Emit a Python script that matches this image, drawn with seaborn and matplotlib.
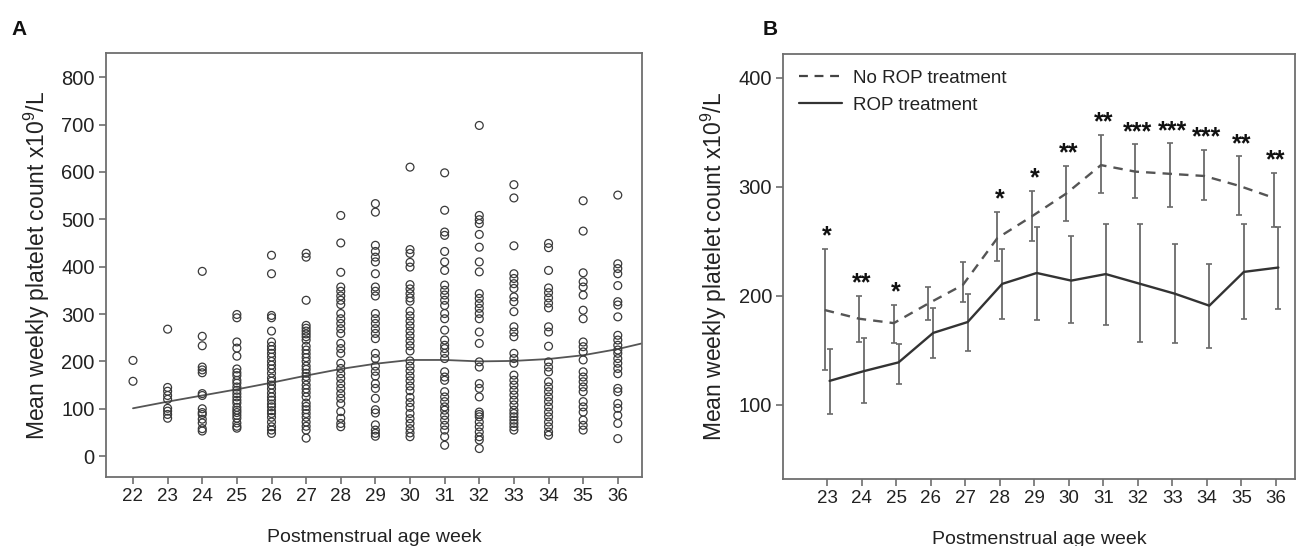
import numpy as np
import pandas as pd
import matplotlib
matplotlib.use('Agg')
import matplotlib.pyplot as plt
import seaborn as sns
from matplotlib.lines import Line2D

# Panel A: weekly platelet counts (x10^9/L) per postmenstrual age week
pc_w22 = [202, 158]
pc_w23 = [268, 145, 137, 128, 120, 101, 95, 88, 80]
pc_w24 = [390, 253, 233, 188, 182, 176, 132, 128, 100, 92, 88, 78, 70, 58, 53]
pc_w25 = [299, 292, 241, 228, 211, 184, 176, 170, 160, 154, 146, 139, 132, 125,
          118, 112, 103, 97, 92, 86, 80, 70, 63, 59]
pc_w26 = [424, 385, 297, 292, 264, 241, 232, 225, 217, 209, 200, 192, 184, 175,
          165, 158, 150, 142, 133, 125, 118, 110, 104, 96, 90, 82, 72, 62, 55, 48]
pc_w27 = [428, 420, 329, 276, 270, 264, 258, 252, 245, 232, 224, 216, 208, 200,
          190, 183, 175, 168, 160, 150, 142, 134, 125, 112, 105, 98, 90, 82, 72,
          63, 55, 38]
pc_w28 = [508, 450, 388, 357, 348, 338, 329, 320, 301, 290, 280, 269, 259, 238,
          227, 217, 196, 185, 174, 164, 153, 143, 132, 122, 111, 94, 80, 69, 62]
pc_w29 = [533, 515, 445, 432, 420, 410, 385, 357, 348, 338, 301, 290, 280, 269,
          259, 248, 217, 206, 190, 179, 169, 153, 143, 122, 98, 91, 66, 55, 48, 42]
pc_w30 = [610, 436, 428, 409, 399, 362, 353, 343, 334, 327, 306, 296, 285, 275,
          264, 254, 243, 233, 222, 201, 190, 180, 169, 159, 148, 138, 124, 113,
          103, 90, 79, 69, 58, 49, 41]
pc_w31 = [598, 519, 473, 466, 432, 410, 392, 361, 350, 340, 329, 318, 301, 290,
          266, 245, 234, 227, 217, 206, 178, 167, 160, 136, 125, 115, 104, 97, 86,
          76, 65, 55, 41, 23]
pc_w32 = [698, 508, 499, 491, 468, 441, 410, 389, 343, 333, 322, 312, 301, 290,
          262, 238, 199, 188, 153, 143, 125, 93, 88, 83, 72, 62, 51, 41, 34, 16]
pc_w33 = [573, 545, 444, 385, 375, 364, 354, 336, 326, 305, 273, 262, 252, 217,
          206, 196, 171, 160, 150, 139, 129, 118, 108, 97, 90, 83, 76, 69, 62, 55]
pc_w34 = [449, 440, 392, 355, 345, 334, 323, 313, 273, 262, 232, 199, 188, 178,
          157, 146, 136, 125, 115, 104, 93, 83, 72, 62, 51, 44]
pc_w35 = [539, 475, 387, 368, 357, 340, 308, 290, 241, 231, 220, 203, 178, 167,
          157, 146, 136, 115, 104, 93, 76, 65, 55]
pc_w36 = [551, 406, 396, 385, 360, 326, 319, 294, 255, 245, 234, 224, 217, 206,
          196, 185, 174, 143, 136, 111, 101, 86, 69, 37]

# smoothed trend in panel A
trend_weeks = [22, 23, 24, 25, 26, 27, 28, 29, 30, 31, 32, 33, 34, 35, 36, 36.7]
trend_values = [101, 115, 128, 141, 155, 170, 184, 195, 203, 203, 200, 201, 205,
                213, 226, 238]

# Panel B: mean weekly platelet count with CI
weeks_b = [23, 24, 25, 26, 27, 28, 29, 30, 31, 32, 33, 34, 35, 36]
no_rop_mean = [187, 179, 175, 193, 210, 253, 273, 294, 320, 314, 312, 310, 301, 290]
no_rop_low = [132, 158, 157, 178, 194, 232, 250, 269, 294, 290, 282, 288, 274, 263]
no_rop_high = [243, 200, 192, 208, 231, 277, 296, 319, 348, 339, 340, 334, 328, 313]
rop_mean = [122, 131, 139, 166, 176, 211, 221, 214, 220, 211, 202, 191, 222, 226]
rop_low = [92, 102, 119, 143, 149, 179, 178, 175, 173, 158, 157, 152, 179, 188]
rop_high = [151, 161, 156, 189, 202, 243, 263, 255, 266, 266, 248, 229, 266, 263]
signif = ['*', '**', '*', '', '', '*', '*', '**', '**', '***', '***', '***', '**', '**']

sns.set_theme(style='white')
plt.rcParams['font.family'] = ['Liberation Sans', 'DejaVu Sans']
plt.rcParams['mathtext.fontset'] = 'custom'
plt.rcParams['mathtext.rm'] = 'Liberation Sans'
plt.rcParams['mathtext.it'] = 'Liberation Sans'

TEXT = '#222222'
SPINE = '#6e6e6e'
YLABEL = 'Mean weekly platelet count x10$^9$/L'


def style_axes(ax):
    for s in ax.spines.values():
        s.set_color(SPINE)
        s.set_linewidth(1.3)
    ax.tick_params(axis='both', which='major', direction='out', length=5,
                   width=1.2, color=SPINE, labelcolor=TEXT,
                   bottom=True, left=True, pad=3)
    ax.tick_params(axis='y', labelsize=14.5)
    ax.tick_params(axis='x', labelsize=13.5)
    ax.set_xlabel('Postmenstrual age week', fontsize=14, color=TEXT, labelpad=17)
    ax.set_ylabel(YLABEL, fontsize=16.5, color=TEXT, labelpad=7)


fig = plt.figure(figsize=(13.1, 5.46), dpi=100)
ax_a = fig.add_axes([0.0809, 0.1264, 0.4092, 0.7766])
ax_b = fig.add_axes([0.5977, 0.1228, 0.3908, 0.7784])

# ---- Panel A
cols = [pc_w22, pc_w23, pc_w24, pc_w25, pc_w26, pc_w27, pc_w28, pc_w29, pc_w30,
        pc_w31, pc_w32, pc_w33, pc_w34, pc_w35, pc_w36]
rows = []
for wk, vals in zip(range(22, 37), cols):
    for v in vals:
        rows.append({'week': wk, 'count': v})
df_a = pd.DataFrame(rows)

sns.scatterplot(data=df_a, x='week', y='count', ax=ax_a, marker='o', s=32,
                facecolor='none', edgecolor='#3a3a3a', linewidth=0.9, zorder=3)
sns.lineplot(x=trend_weeks, y=trend_values, ax=ax_a, color='#555555', lw=1.3,
             zorder=2)
ax_a.set_xlim(21.22, 36.7)
ax_a.set_ylim(-44, 851)
ax_a.set_xticks(range(22, 37))
ax_a.set_yticks(range(0, 801, 100))
style_axes(ax_a)

# ---- Panel B
dodge = 0.07
x_no = np.array(weeks_b) - dodge
x_rop = np.array(weeks_b) + dodge
df_b = pd.DataFrame({'week': weeks_b, 'no_mean': no_rop_mean, 'no_lo': no_rop_low,
                     'no_hi': no_rop_high, 'rop_mean': rop_mean, 'rop_lo': rop_low,
                     'rop_hi': rop_high})

sns.lineplot(x=x_no, y=df_b['no_mean'], ax=ax_b, color='#555555', lw=1.7,
             dashes=False, zorder=3)
ax_b.lines[-1].set_dashes([4, 3])
sns.lineplot(x=x_rop, y=df_b['rop_mean'], ax=ax_b, color='#333333', lw=1.7, zorder=3)

ax_b.errorbar(x_no, df_b['no_mean'],
              yerr=[df_b['no_mean'] - df_b['no_lo'], df_b['no_hi'] - df_b['no_mean']],
              fmt='none', ecolor='#6a6a6a', elinewidth=1.3, capsize=2.5,
              capthick=1.2, zorder=2)
ax_b.errorbar(x_rop, df_b['rop_mean'],
              yerr=[df_b['rop_mean'] - df_b['rop_lo'], df_b['rop_hi'] - df_b['rop_mean']],
              fmt='none', ecolor='#6a6a6a', elinewidth=1.3, capsize=2.5,
              capthick=1.2, zorder=2)

for wk, hi, lab in zip(weeks_b, no_rop_high, signif):
    if lab:
        ax_b.text(wk, hi + 5, lab, ha='center', va='baseline', fontsize=18,
                  fontweight='bold', color='#111111')

handles = [Line2D([], [], color='#444444', lw=1.6, dashes=[4, 3]),
           Line2D([], [], color='#333333', lw=1.6)]
ax_b.legend(handles, ['No ROP treatment', 'ROP treatment'], loc='upper left',
            bbox_to_anchor=(0.0, 1.0), frameon=False, fontsize=13.5,
            handlelength=2.3, handletextpad=0.6, labelcolor=TEXT,
            borderaxespad=0.45, labelspacing=0.5)

ax_b.set_xlim(21.72, 36.55)
ax_b.set_ylim(32, 422)
ax_b.set_xticks(weeks_b)
ax_b.set_yticks([100, 200, 300, 400])
style_axes(ax_b)

fig.text(0.009, 0.935, 'A', fontsize=15, fontweight='bold', color='#111111')
fig.text(0.582, 0.935, 'B', fontsize=15, fontweight='bold', color='#111111')

fig.savefig('out.png', dpi=100)
